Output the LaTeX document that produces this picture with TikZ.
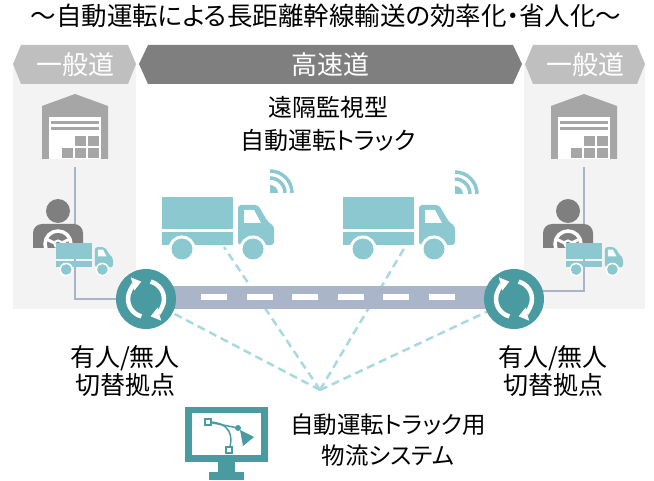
\documentclass[tikz,border=0pt]{standalone}
\usepackage{fontspec}
\setmainfont{Noto Sans CJK JP}[RawFeature=+palt]
\usetikzlibrary{arrows.meta}

\definecolor{tealdark}{HTML}{4A9BA1}
\definecolor{teallight}{HTML}{8CC8CF}
\definecolor{dashteal}{HTML}{A8D9DE}
\definecolor{roadgray}{HTML}{AAB5C9}
\definecolor{panelgray}{HTML}{F3F3F3}
\definecolor{bannerdark}{HTML}{7F7F7F}
\definecolor{bannerlight}{HTML}{BFBFBF}
\definecolor{housegray}{HTML}{A6A6A6}
\definecolor{drivergray}{HTML}{7F7F7F}
\definecolor{linkgray}{HTML}{A9B4C9}

\tikzset{
  enlace/.style={draw=linkgray, line width=2pt},
  punteada/.style={draw=dashteal, line width=2.5pt, dash pattern=on 8pt off 5pt},
  cambio/.style={circle, fill=tealdark, minimum size=60pt, inner sep=0pt},
  rotulo/.style={align=center, inner sep=0pt, font=\fontsize{25pt}{28pt}\selectfont},
  banda/.style={text=white, inner sep=0pt, font=\fontsize{26pt}{30pt}\selectfont},
}

% Almacén (origen: esquina inferior izquierda)
\newcommand{\almacen}[1]{%
  \begin{scope}[shift={#1}]
    \fill[housegray] (0,0) -- (0,-53) -- (33,-65) -- (66,-53) -- (66,0) -- cycle;
    \fill[white] (7,0) rectangle (59,-42);
    \fill[housegray] (9,-38) rectangle (57,-35);
    \fill[housegray] (9,-32) rectangle (57,-29);
    \foreach \x/\y in {20/-11,33/-11,46/-11,33/-23,46/-23}
      \fill[housegray] (\x,\y) rectangle ++(11,10);
  \end{scope}}

% Conductor con volante (origen: centro de la cabeza)
\newcommand{\conductor}[1]{%
  \begin{scope}[shift={#1}]
    \fill[drivergray] (0,0) circle (12);
    \fill[drivergray] (-25,37) [rounded corners=9pt] -- (-25,13) -- (25,13) [sharp corners] -- (25,37) -- cycle;
    \begin{scope}
      \clip (-25,13) rectangle (25,37);
      \draw[white, line width=3.5pt] (0,33) circle (13);
      \draw[white, line width=2pt] (0,33) circle (3.5);
      \draw[white, line width=3pt] (-3.5,32) -- (-12,28) (3.5,32) -- (12,28);
    \end{scope}
  \end{scope}}

% Camión (origen: esquina superior izquierda de la caja)
\newcommand{\camion}[2]{%
  \begin{scope}[shift={#1}, scale=#2]
    \fill[teallight] (0,0) rectangle (71,32);
    \fill[teallight] (0,35) rectangle (71,48);
    \fill[teallight, rounded corners=3pt] (76,48) -- (76,8) -- (96,8) -- (106,25) -- (112,29) -- (112,48) -- cycle;
    \fill[white] (82,13) -- (92,13) -- (99,26) -- (82,26) -- cycle;
    \foreach \x in {20,91} {
      \fill[white] (\x,52) circle (13.5);
      \fill[teallight] (\x,52) circle (10.5);
    }
  \end{scope}}

% Señal inalámbrica
\newcommand{\senal}[1]{%
  \begin{scope}[shift={#1}]
    \fill[teallight] (0,0) -- (8,0) arc (0:-90:8) -- cycle;
    \draw[teallight, line width=3.5pt] (15,0) arc (0:-90:15);
    \draw[teallight, line width=3.5pt] (22,0) arc (0:-90:22);
  \end{scope}}

% Flechas de giro dentro del punto de cambio
\newcommand{\giro}[1]{%
  \draw[white, line width=4.5pt, -{Triangle[length=9pt,width=13pt]}] (#1.center) ++(105:18) arc (105:255:18);
  \draw[white, line width=4.5pt, -{Triangle[length=9pt,width=13pt]}] (#1.center) ++(-75:18) arc (-75:75:18);}

\begin{document}
\begin{tikzpicture}[x=1pt, y=-1pt]
  \useasboundingbox (0,0) rectangle (654,481);

  % Título
  \node[font=\fontsize{25.5pt}{30pt}\selectfont] (titulo) at (326,16) {～自動運転による長距離幹線輸送の効率化・省人化～};

  % Tramos de vía general
  \fill[panelgray] (13,64) rectangle (136,309);
  \fill[panelgray] (524,64) rectangle (645,309);

  % Franjas superiores
  \fill[bannerlight] (13,64) -- (21,45) -- (128,45) -- (136,64) -- (128,84) -- (21,84) -- cycle;
  \fill[bannerdark] (139,64) -- (148,45) -- (513,45) -- (522,64) -- (513,84) -- (148,84) -- cycle;
  \fill[bannerlight] (525,64) -- (533,45) -- (637,45) -- (645,64) -- (637,84) -- (533,84) -- cycle;
  \node[banda] (generalA) at (75,65) {一般道};
  \node[banda] (autopista) at (330,65) {高速道};
  \node[banda] (generalB) at (585,65) {一般道};

  % Puntos de referencia
  \coordinate (hub) at (320,390);
  \coordinate (cA) at (224,247);
  \coordinate (cB) at (405,247);
  \coordinate (pL) at (146,299);
  \coordinate (pR) at (514,299);
  \coordinate (whL) at (75,167);
  \coordinate (whR) at (584,167);

  % Enlaces punteados al sistema
  \draw[punteada] (hub) -- (pL);
  \draw[punteada] (hub) -- (cA);
  \draw[punteada] (hub) -- (cB);
  \draw[punteada] (hub) -- (pR);

  % Enlaces almacén - punto de cambio
  \draw[enlace] (whL) |- (pL);
  \draw[enlace] (whR) |- ([yshift=8pt]pR);

  % Carretera
  \fill[roadgray] (146,286) rectangle (514,309);
  \foreach \i in {0,...,5}
    \fill[white] (201+45.5*\i,294) rectangle ++(26,6);

  % Puntos de cambio
  \node[cambio] (swL) at (pL) {};
  \node[cambio] (swR) at (pR) {};
  \giro{swL}
  \giro{swR}

  % Almacenes, conductores y camiones pequeños
  \almacen{(42,159)}
  \almacen{(551,159)}
  \conductor{(58,211)}
  \conductor{(568,211)}
  \camion{(56,243)}{0.51}
  \camion{(566,243)}{0.51}

  % Camiones autónomos
  \camion{(162,197)}{1}
  \camion{(343,197)}{1}
  \senal{(270,193)}
  \senal{(455,194)}

  % Monitor
  \fill[tealdark] (185,407) rectangle (268,462);
  \fill[white] (192,413) rectangle (261,455);
  \fill[tealdark] (218,462) rectangle (235,472);
  \fill[tealdark] (209,472) rectangle (244,480);
  \draw[tealdark, line width=1.5pt] (208,422) .. controls (230,422) and (234,436) .. (229,450);
  \draw[tealdark, line width=1.5pt] (208,422) -- (238,428);
  \fill[tealdark] (238,428) circle (3);
  \draw[tealdark, line width=1.5pt, fill=white] (205,419) rectangle ++(6,6);
  \draw[tealdark, line width=1.5pt, fill=white] (226,447) rectangle ++(6,6);
  \fill[tealdark] (240,430) -- (254,437) -- (243,446) -- cycle;

  % Rótulos
  \node[rotulo, font=\fontsize{24pt}{33pt}\selectfont] (remoto) at (328,124) {遠隔監視型\\自動運転トラック};
  \node[rotulo] (cambioA) at (125,371) {有人/無人\\切替拠点};
  \node[rotulo] (cambioB) at (553,371) {有人/無人\\切替拠点};
  \node[rotulo, font=\fontsize{23.5pt}{31pt}\selectfont] (sistema) at (388,440) {自動運転トラック用\\物流システム};
\end{tikzpicture}
\end{document}
